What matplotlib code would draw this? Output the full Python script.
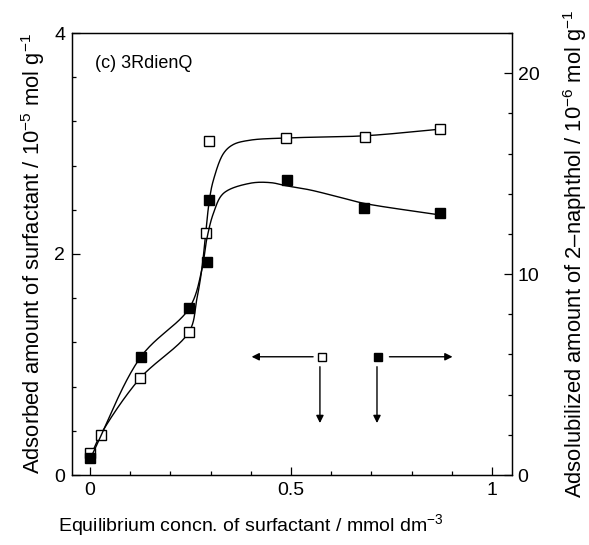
import numpy as np
import matplotlib
matplotlib.use("Agg")
import matplotlib.pyplot as plt
from matplotlib.ticker import MultipleLocator

plt.rcParams["font.family"] = ["Liberation Sans", "DejaVu Sans"]
plt.rcParams["mathtext.fontset"] = "custom"
plt.rcParams["mathtext.rm"] = "Liberation Sans"
plt.rcParams["mathtext.it"] = "Liberation Sans:italic"
plt.rcParams["mathtext.bf"] = "Liberation Sans:bold"

# Adsorbed amount of surfactant (left axis, 10^-5 mol g^-1)
conc_surf = [0.0, 0.027, 0.123, 0.247, 0.289, 0.297, 0.487, 0.684, 0.872]
adsorbed = [0.20, 0.36, 0.88, 1.29, 2.19, 3.02, 3.05, 3.06, 3.13]

# Adsolubilized amount of 2-naphthol (right axis, 10^-6 mol g^-1)
conc_naph = [0.0, 0.126, 0.247, 0.290, 0.297, 0.491, 0.682, 0.872]
adsolubilized = [0.83, 5.87, 8.31, 10.6, 13.69, 14.68, 13.27, 13.06]

# Hand-drawn guide curves (control points)
surf_curve_x = [0.0, 0.027, 0.123, 0.247, 0.265, 0.278, 0.297, 0.307,
                0.332, 0.356, 0.398, 0.487, 0.684, 0.872]
surf_curve_y = [0.16, 0.37, 0.87, 1.30, 1.58, 1.86, 2.49, 2.67,
                2.91, 2.99, 3.03, 3.05, 3.07, 3.13]
naph_curve_x = [0.0, 0.126, 0.247, 0.278, 0.290, 0.307, 0.332, 0.398,
                0.45, 0.487, 0.547, 0.622, 0.682, 0.872]
naph_curve_y = [0.80, 5.87, 8.31, 10.2, 11.7, 13.03, 14.02, 14.52,
                14.55, 14.40, 14.19, 13.82, 13.52, 12.94]


def catmull_rom(x, y, sx, sy, n_seg=40, alpha=0.5):
    """Centripetal Catmull-Rom curve through (x, y); sx, sy scale the
    coordinates so the parametrisation follows on-screen distances."""
    P = np.column_stack([np.asarray(x, float) * sx, np.asarray(y, float) * sy])
    P = np.vstack([2 * P[0] - P[1], P, 2 * P[-1] - P[-2]])
    out = []
    for i in range(1, len(P) - 2):
        p0, p1, p2, p3 = P[i - 1], P[i], P[i + 1], P[i + 2]
        t0 = 0.0
        t1 = t0 + np.linalg.norm(p1 - p0) ** alpha
        t2 = t1 + np.linalg.norm(p2 - p1) ** alpha
        t3 = t2 + np.linalg.norm(p3 - p2) ** alpha
        t = np.linspace(t1, t2, n_seg)[:, None]
        a1 = (t1 - t) / (t1 - t0) * p0 + (t - t0) / (t1 - t0) * p1
        a2 = (t2 - t) / (t2 - t1) * p1 + (t - t1) / (t2 - t1) * p2
        a3 = (t3 - t) / (t3 - t2) * p2 + (t - t2) / (t3 - t2) * p3
        b1 = (t2 - t) / (t2 - t0) * a1 + (t - t0) / (t2 - t0) * a2
        b2 = (t3 - t) / (t3 - t1) * a2 + (t - t1) / (t3 - t1) * a3
        c = (t2 - t) / (t2 - t1) * b1 + (t - t1) / (t2 - t1) * b2
        out.append(c if i == 1 else c[1:])
    c = np.vstack(out)
    return c[:, 0] / sx, c[:, 1] / sy


fig = plt.figure(figsize=(5.89, 5.45), dpi=100)
ax = fig.add_axes([72 / 589, 1 - 475 / 545, 440 / 589, 442 / 545])
ax2 = ax.twinx()

fs = 14
fs_ylab = 15.8
lw_spine = 0.9

# Curves
cx, cy = catmull_rom(surf_curve_x, surf_curve_y, 402.0, 110.5)
ax.plot(cx, cy, color="black", lw=1.0)
cx, cy = catmull_rom(naph_curve_x, naph_curve_y, 402.0, 20.09)
ax2.plot(cx, cy, color="black", lw=1.0)

# Points
ax.plot(conc_surf, adsorbed, linestyle="none", marker="s", ms=7,
        mfc="white", mec="black", mew=1.0, zorder=5)
ax2.plot(conc_naph, adsolubilized, linestyle="none", marker="s", ms=7,
         mfc="black", mec="black", mew=1.0, zorder=5)

ax.set_xlim(-0.045, 1.05)
ax.set_ylim(0, 4)
ax2.set_ylim(0, 22)

ax.xaxis.set_minor_locator(MultipleLocator(0.1))
ax.yaxis.set_minor_locator(MultipleLocator(0.4))
ax2.yaxis.set_minor_locator(MultipleLocator(2))

ax.set_xticks([0, 0.5, 1])
ax.set_xticklabels(["0", "0.5", "1"])
ax.set_yticks([0, 2, 4])
ax.set_yticklabels(["0", "2", "4"])
ax2.set_yticks([0, 10, 20])
ax2.set_yticklabels(["0", "10", "20"])

for a in (ax, ax2):
    for s in a.spines.values():
        s.set_linewidth(lw_spine)
ax.tick_params(which="both", direction="in", top=False, right=False,
               labelsize=fs, width=0.9)
ax.tick_params(which="major", length=6, pad=5)
ax.tick_params(which="minor", length=3)
ax2.tick_params(which="both", direction="in", labelsize=fs, width=0.9)
ax2.tick_params(which="major", length=6, pad=4)
ax2.tick_params(which="minor", length=3)

ax.set_xlabel("Equilibrium concn. of surfactant / mmol dm$^{-3}$",
              fontsize=fs, labelpad=9)
ax.xaxis.set_label_coords(0.407, -0.085, transform=ax.transAxes)
ax.xaxis.label.set_va("top")
ax.set_ylabel("Adsorbed amount of surfactant / 10$^{-5}$ mol g$^{-1}$",
              fontsize=fs_ylab, labelpad=5)
ax2.set_ylabel("Adsolubilized amount of 2\u2013naphthol / 10$^{-6}$ mol g$^{-1}$",
               fontsize=fs_ylab, labelpad=16)

ax.text(0.052, 0.932, "(c) 3RdienQ", transform=ax.transAxes,
        fontsize=13, va="center", ha="left")

# Axis key: open squares -> left axis, filled squares -> right axis
key_y = 1.07
ax.plot([0.577], [key_y], linestyle="none", marker="s", ms=6,
        mfc="white", mec="black", mew=1.0)
ax.plot([0.716], [key_y], linestyle="none", marker="s", ms=6,
        mfc="black", mec="black", mew=1.0)
arrow = dict(arrowstyle="-|>", color="black", lw=1.0, mutation_scale=11,
             shrinkA=0, shrinkB=0)
ax.annotate("", xy=(0.402, key_y), xytext=(0.555, key_y), arrowprops=arrow)
ax.annotate("", xy=(0.572, 0.47), xytext=(0.572, 0.98), arrowprops=arrow)
ax.annotate("", xy=(0.714, 0.47), xytext=(0.714, 0.98), arrowprops=arrow)
ax.annotate("", xy=(0.902, key_y), xytext=(0.745, key_y), arrowprops=arrow)

fig.savefig("out.png", dpi=100)
